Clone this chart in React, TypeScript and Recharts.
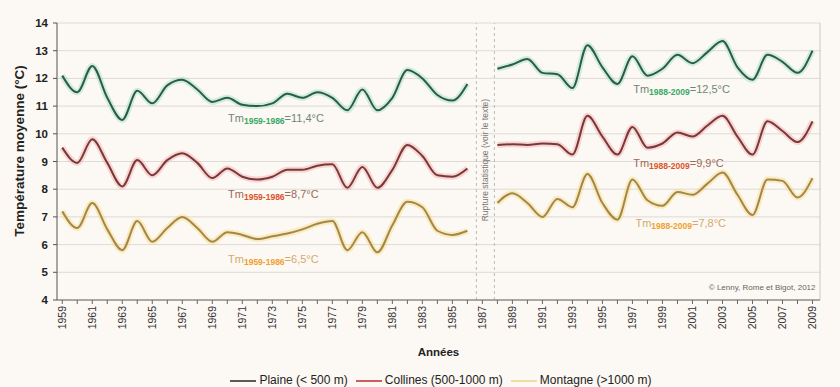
import React from 'react';
import { LineChart, Line, XAxis, YAxis, CartesianGrid, ReferenceLine, ReferenceDot, Legend } from 'recharts';

const years = [1959, 1960, 1961, 1962, 1963, 1964, 1965, 1966, 1967, 1968, 1969, 1970, 1971, 1972, 1973, 1974, 1975, 1976, 1977, 1978, 1979, 1980, 1981, 1982, 1983, 1984, 1985, 1986, 1987, 1988, 1989, 1990, 1991, 1992, 1993, 1994, 1995, 1996, 1997, 1998, 1999, 2000, 2001, 2002, 2003, 2004, 2005, 2006, 2007, 2008, 2009];

const plaine = [12.1, 11.5, 12.45, 11.3, 10.5, 11.55, 11.1, 11.75, 11.95, 11.6, 11.15, 11.3, 11.05, 11.0, 11.1, 11.45, 11.3, 11.5, 11.3, 10.85, 11.6, 10.85, 11.3, 12.3, 12.0, 11.4, 11.2, 11.8, null, 12.35, 12.5, 12.7, 12.2, 12.15, 11.65, 13.2, 12.4, 11.8, 12.8, 12.1, 12.35, 12.85, 12.55, 12.95, 13.35, 12.4, 11.95, 12.85, 12.6, 12.2, 13.0];

const collines = [9.5, 8.95, 9.8, 8.95, 8.1, 9.05, 8.5, 9.05, 9.3, 8.95, 8.4, 8.75, 8.45, 8.35, 8.45, 8.7, 8.7, 8.85, 8.9, 8.05, 8.8, 8.05, 8.7, 9.6, 9.2, 8.5, 8.45, 8.75, null, 9.6, 9.62, 9.6, 9.65, 9.62, 9.25, 10.65, 9.9, 9.25, 10.25, 9.5, 9.65, 10.05, 9.9, 10.3, 10.65, 9.9, 9.25, 10.45, 10.1, 9.7, 10.45];

const montagne = [7.2, 6.6, 7.5, 6.55, 5.8, 6.85, 6.1, 6.6, 7.0, 6.6, 6.1, 6.45, 6.35, 6.2, 6.3, 6.4, 6.55, 6.75, 6.85, 5.8, 6.45, 5.72, 6.7, 7.55, 7.35, 6.5, 6.35, 6.5, null, 7.5, 7.85, 7.5, 7.0, 7.65, 7.35, 8.55, 7.5, 6.9, 8.35, 7.6, 7.4, 7.9, 7.8, 8.2, 8.6, 7.8, 7.07, 8.35, 8.3, 7.7, 8.4];

const yTicks = [4, 5, 6, 7, 8, 9, 10, 11, 12, 13, 14];
const breakYear = 1987;

const annotations = [
  { year: 1970.05, value: 10.43, sub: '1959-1986', mean: '=11,4°C', text: '#6f8576', color: '#3aa866' },
  { year: 1970.05, value: 7.68, sub: '1959-1986', mean: '=8,7°C', text: '#9a6a5a', color: '#d8542a' },
  { year: 1970.05, value: 5.34, sub: '1959-1986', mean: '=6,5°C', text: '#d6a870', color: '#f0a030' },
  { year: 1997.05, value: 11.47, sub: '1988-2009', mean: '=12,5°C', text: '#6f8576', color: '#3aa866' },
  { year: 1997.05, value: 8.8, sub: '1988-2009', mean: '=9,9°C', text: '#9a6a5a', color: '#d8542a' },
  { year: 1997.2, value: 6.64, sub: '1988-2009', mean: '=7,8°C', text: '#d6a870', color: '#f0a030' },
];

const series = [
  { key: 'plaine', name: 'Plaine (< 500 m)', stroke: '#2c5c49', halo: '#8fdcb0', legend: '#5a5a5a' },
  { key: 'collines', name: 'Collines (500-1000 m)', stroke: '#7a3838', halo: '#f0a0a0', legend: '#d25c5c' },
  { key: 'montagne', name: 'Montagne (>1000 m)', stroke: '#a3874a', halo: '#f8d870', legend: '#f0dc9e' },
];

const data = years.map((y, i) => ({ year: y, plaine: plaine[i], collines: collines[i], montagne: montagne[i] }));

const FONT = "'Liberation Sans', Arial, sans-serif";

const XTick = (props: any) => {
  const { x, y, payload } = props;
  const yr = payload.value;
  if ((yr - 1959) % 2 !== 0) return <g />;
  return (
    <text x={x} y={y} transform={`rotate(-90 ${x} ${y})`} textAnchor="end" dominantBaseline="central" fontSize={10.5} fill="#333" fontFamily={FONT}>
      {yr}
    </text>
  );
};

const Anno = (props: any) => {
  const { cx, cy, a } = props;
  return (
    <text x={cx} y={cy} fontSize={11} fill={a.text} fontFamily={FONT}>
      Tm
      <tspan dy={2} fontSize={8.5} fontWeight="bold" fill={a.color}>{a.sub}</tspan>
      <tspan dy={-2} fontSize={11}>{a.mean}</tspan>
    </text>
  );
};

const LegendContent = () => (
  <div style={{ height: 25, display: 'flex', justifyContent: 'center', alignItems: 'flex-end', paddingLeft: 50, boxSizing: 'border-box', fontFamily: FONT, fontSize: 12, color: '#222', lineHeight: '13px' }}>
    {series.map((s) => (
      <div key={s.key} style={{ display: 'flex', alignItems: 'center', marginRight: 8 }}>
        <div style={{ width: 26, height: 2, background: s.legend, marginRight: 3 }} />
        <span>{s.name}</span>
      </div>
    ))}
  </div>
);

const YTitle = () => (
  <text x={19} y={151} transform="rotate(-90 19 151)" textAnchor="middle" dominantBaseline="central" fontSize={13.5} fontWeight="bold" fill="#222" fontFamily={FONT}>
    Température moyenne (°C)
  </text>
);

export default function App() {
  return (
    <div style={{ position: 'absolute', left: 0, top: 0, width: 840, height: 387, background: '#fcf8f3' }}>
      <LineChart width={840} height={387} data={data} margin={{ top: 23, right: 0, bottom: 0, left: 0 }} style={{ fontFamily: FONT }}>
        <CartesianGrid yAxisId="left" horizontal vertical={false} stroke="#dedad5" />
        <XAxis
          dataKey="year"
          type="number"
          domain={[1958.65, 2009.5]}
          ticks={years}
          interval={0}
          allowDataOverflow
          tick={<XTick />}
          tickSize={4}
          tickMargin={2}
          stroke="#666"
          height={62}
          label={{ value: 'Années', position: 'insideBottom', offset: 6, style: { fontWeight: 'bold', fontSize: 11.5, fill: '#222', fontFamily: FONT } }}
        />
        <XAxis xAxisId="top" orientation="top" type="number" dataKey="year" domain={[1958.65, 2009.5]} ticks={years} tick={false} height={0} stroke="#555" />
        <YAxis
          yAxisId="left"
          domain={[4, 14]}
          ticks={yTicks}
          interval={0}
          width={57}
          stroke="#555"
          tickSize={4}
          tickMargin={5}
          tick={{ fontSize: 11.5, fontWeight: 'bold', fill: '#222', fontFamily: FONT }}
          label={<YTitle />}
        />
        <YAxis
          yAxisId="right"
          orientation="right"
          domain={[4, 14]}
          ticks={yTicks}
          interval={0}
          width={20}
          stroke="#c8c8c8"
          tickLine={false}
          tickMargin={3}
          tick={{ fontSize: 11.5, fontWeight: 'bold', fill: '#222', fontFamily: FONT, textAnchor: 'start' }}
        />
        <ReferenceLine yAxisId="left" x={breakYear - 0.4} stroke="#bbb" strokeDasharray="3 3" />
        <ReferenceLine yAxisId="left" x={breakYear + 0.8} stroke="#bbb" strokeDasharray="3 3" />
        {series.map((s) => (
          <Line key={s.key + '-halo'} yAxisId="left" dataKey={s.key} type="monotone" stroke={s.halo} strokeWidth={6} strokeOpacity={0.4} dot={false} activeDot={false} legendType="none" isAnimationActive={false} connectNulls={false} />
        ))}
        {series.map((s) => (
          <Line key={s.key} yAxisId="left" dataKey={s.key} name={s.name} type="monotone" stroke={s.stroke} strokeWidth={2} dot={false} activeDot={false} isAnimationActive={false} connectNulls={false} />
        ))}
        {annotations.map((a, i) => (
          <ReferenceDot key={i} yAxisId="left" x={a.year} y={a.value} r={0} shape={(p: any) => <Anno cx={p.cx} cy={p.cy} a={a} />} />
        ))}
        <ReferenceDot
          yAxisId="left"
          x={breakYear + 0.2}
          y={9.05}
          r={0}
          shape={(p: any) => (
            <text x={p.cx} y={p.cy} transform={`rotate(-90 ${p.cx} ${p.cy})`} textAnchor="middle" dominantBaseline="central" fontSize={8.5} fill="#777" fontFamily={FONT}>
              Rupture statistique (voir le texte)
            </text>
          )}
        />
        <ReferenceDot
          yAxisId="left"
          x={2009.2}
          y={4.35}
          r={0}
          shape={(p: any) => (
            <text x={p.cx} y={p.cy} textAnchor="end" fontSize={8} fill="#666" fontFamily={FONT}>
              © Lenny, Rome et Bigot, 2012
            </text>
          )}
        />
        <Legend verticalAlign="bottom" height={25} content={<LegendContent />} />
      </LineChart>
    </div>
  );
}
